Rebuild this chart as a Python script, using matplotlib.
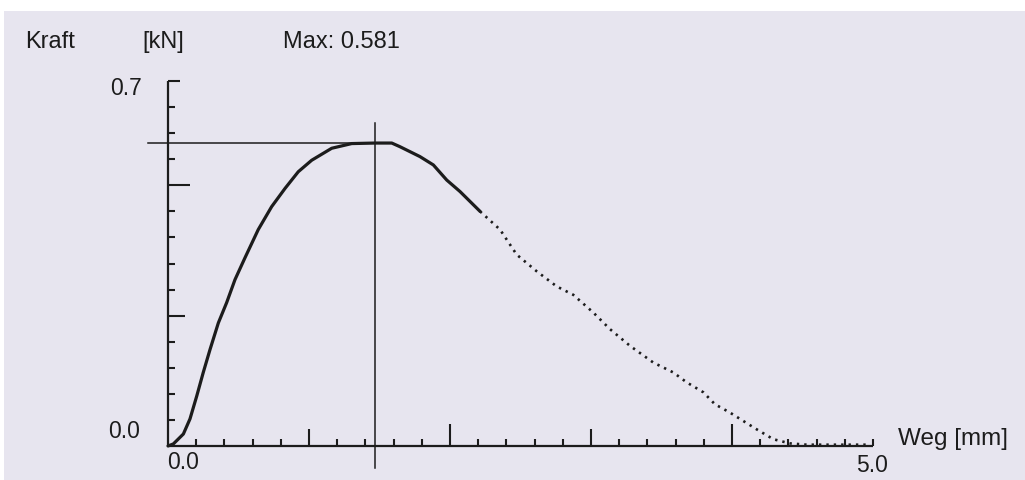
import matplotlib
matplotlib.use("Agg")
import matplotlib.pyplot as plt
from matplotlib.patches import Rectangle

# ---- data ----
x_solid = [0.0, 0.038, 0.109, 0.156, 0.204, 0.250, 0.298, 0.357, 0.416, 0.475, 0.546,
           0.640, 0.735, 0.830, 0.924, 1.019, 1.161, 1.303, 1.468, 1.587, 1.645,
           1.787, 1.882, 1.977, 2.071, 2.213]
y_solid = [0.0, 0.004, 0.023, 0.052, 0.096, 0.141, 0.185, 0.236, 0.275, 0.319, 0.361,
           0.415, 0.459, 0.494, 0.526, 0.548, 0.571, 0.580, 0.581, 0.581, 0.574,
           0.555, 0.539, 0.510, 0.488, 0.450]
x_dotted = [2.213, 2.355, 2.473, 2.615, 2.757, 2.874, 3.016, 3.135, 3.277, 3.442, 3.584,
            3.679, 3.797, 3.879, 3.986, 4.080, 4.175, 4.293, 4.411, 4.530, 4.766, 4.979]
y_dotted = [0.450, 0.415, 0.367, 0.335, 0.306, 0.290, 0.256, 0.224, 0.192, 0.160, 0.141,
            0.122, 0.103, 0.080, 0.064, 0.048, 0.032, 0.013, 0.005, 0.0025, 0.0025, 0.0025]
max_force = 0.581
max_pos = 1.47

x_minor = [0.2, 0.4, 0.6, 0.8, 1.2, 1.4, 1.6, 1.8, 2.2, 2.4, 2.6, 2.8,
           3.2, 3.4, 3.6, 3.8, 4.2, 4.4, 4.6, 4.8, 5.0]
x_mid = [1.0, 3.0]
x_long = [2.0, 4.0]
y_minor = [0.05, 0.1, 0.15, 0.2, 0.3, 0.35, 0.4, 0.45, 0.55, 0.6, 0.65]
y_mid = [0.25]
y_long = [0.5]
y_top = [0.7]

W, H = 1025, 481
fig = plt.figure(figsize=(W / 100, H / 100), dpi=100)
fig.patch.set_facecolor("#e7e5ef")
# white scan margins (top and left)
fig.add_artist(Rectangle((0, (H - 12) / H), 1, 12 / H, transform=fig.transFigure,
                         facecolor="white", edgecolor="none", zorder=-5))
fig.add_artist(Rectangle((0, 0), 4 / W, 1, transform=fig.transFigure,
                         facecolor="white", edgecolor="none", zorder=-5))

x0, x1 = 168, 873
ytop, ybot = 82, 447
ax = fig.add_axes([x0 / W, (H - ybot) / H, (x1 - x0) / W, (ybot - ytop) / H])
ax.set_zorder(2)
ax.set_xlim(0, 5.0)
ax.set_ylim(0, 0.7)
ax.patch.set_alpha(0)
for s in ax.spines.values():
    s.set_visible(False)
ax.set_xticks([])
ax.set_yticks([])

ink = "#1c1c1c"
pxx = 5.0 / (x1 - x0)   # mm per pixel
pxy = 0.7 / (ybot - ytop)  # kN per pixel

# axes lines
ax.plot([0, 5.0], [0, 0], color=ink, lw=1.6, clip_on=False, solid_capstyle="butt")
ax.plot([0, 0], [0, 0.7], color=ink, lw=1.6, clip_on=False, solid_capstyle="butt")

# x ticks (pointing up)
for xs, ln in ((x_minor, 7), (x_mid, 17), (x_long, 22)):
    ax.vlines(xs, 0, ln * pxy, color=ink, lw=1.5, clip_on=False)
# y ticks (pointing right)
for ys, ln in ((y_minor, 7), (y_mid, 17), (y_long, 22), (y_top, 12)):
    ax.hlines(ys, 0, ln * pxx, color=ink, lw=1.5, clip_on=False)

# curve
ax.plot(x_solid, y_solid, color=ink, lw=2.3, clip_on=False,
        solid_joinstyle="round", solid_capstyle="round")
ax.plot(x_dotted, y_dotted, color=ink, lw=1.9, clip_on=False,
        linestyle=(0, (0.9, 1.9)), dash_capstyle="butt")

# max cross lines
ax.plot([-20 * pxx, max_pos + 15 * pxx], [max_force, max_force], color=ink, lw=1.1,
        clip_on=False)
ax.plot([max_pos, max_pos], [max_force + 20 * pxy, -22 * pxy], color=ink, lw=1.1,
        clip_on=False)

font = "Liberation Sans"
def t(x, y, s, size=17, ha="left"):
    fig.text(x / W, 1 - y / H, s, fontsize=size, family=font, color=ink,
             ha=ha, va="baseline", zorder=3)

t(25, 48, "Kraft")
t(142, 48, "[kN]")
t(283, 48, "Max: {:.3f}".format(max_force))
t(110, 95, "0.7", 16.5)
t(108, 438, "0.0", 16.5)
t(167, 469, "0.0", 16.5)
t(856, 472, "5.0", 16.5)
t(898, 445, "Weg [mm]", 17.5)

fig.savefig("out.png", dpi=100, facecolor=fig.get_facecolor())
